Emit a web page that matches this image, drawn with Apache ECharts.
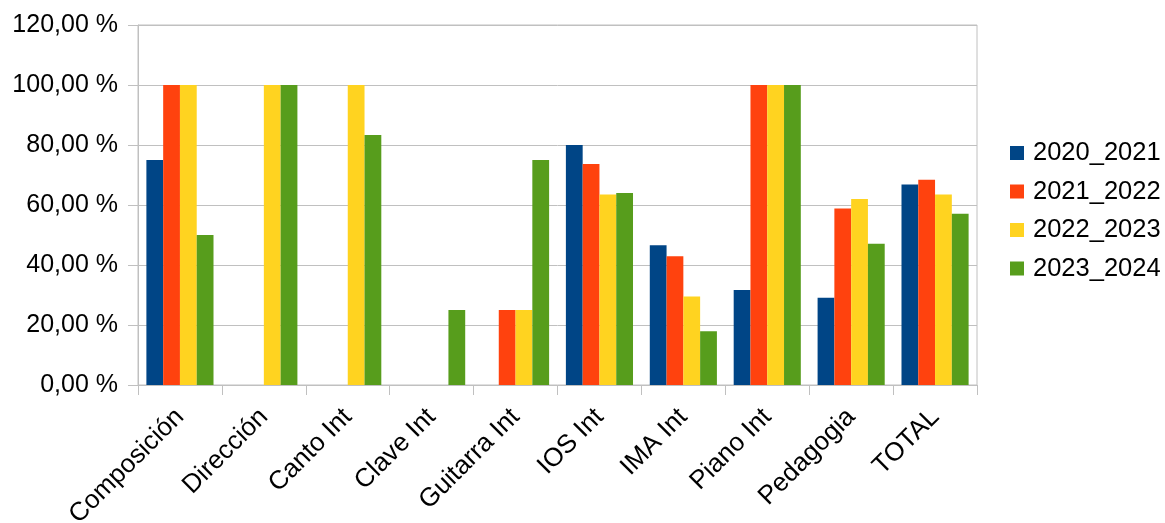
<!DOCTYPE html>
<html>
<head>
<meta charset="utf-8">
<script src="https://cdn.jsdelivr.net/npm/echarts@6/dist/echarts.min.js"></script>
<style>
html,body{margin:0;padding:0;background:#fff;}
#chart{width:1165px;height:523px;}
</style>
</head>
<body>
<div id="chart"></div>
<script>
const categories = ['Composición','Dirección','Canto Int','Clave Int','Guitarra Int','IOS Int','IMA Int','Piano Int','Pedagogia','TOTAL'];
const seriesNames = ['2020_2021','2021_2022','2022_2023','2023_2024'];
const s2020_2021 = [75, 0, 0, 0, 0, 80, 46.6, 31.7, 29.1, 66.8];
const s2021_2022 = [100, 0, 0, 0, 25, 73.7, 42.9, 100, 58.8, 68.4];
const s2022_2023 = [100, 100, 100, 0, 25, 63.5, 29.5, 100, 62.0, 63.5];
const s2023_2024 = [50, 100, 83.33, 25, 75, 64.0, 17.9, 100, 47.1, 57.1];
const colors = ['#004586','#ff420e','#ffd320','#579d1c'];
const allSeries = [s2020_2021, s2021_2022, s2022_2023, s2023_2024];

const chart = echarts.init(document.getElementById('chart'));
const font = '"Liberation Sans", Arial, sans-serif';
chart.setOption({
  animation: false,
  grid: {left: 138, right: 188, top: 25, bottom: 138, containLabel: false, outerBoundsMode: 'none',
    show: true, borderColor: '#c0c0c0', borderWidth: 1},
  legend: {
    orient: 'vertical', left: 1010, top: 140, padding: 0,
    itemWidth: 14, itemHeight: 14, itemGap: 12.5,
    icon: 'rect',
    textStyle: {fontFamily: font, fontSize: 25.5, color: '#000', lineHeight: 25, padding: [0,0,0,4]},
    data: seriesNames
  },
  xAxis: {
    type: 'category', data: categories,
    axisLine: {lineStyle: {color: '#c0c0c0', width: 1}},
    axisTick: {show: true, length: 10, lineStyle: {color: '#c0c0c0'}},
    axisLabel: {rotate: 45, margin: 28, fontFamily: font, fontSize: 26, color: '#000', interval: 0}
  },
  yAxis: {
    type: 'value', min: 0, max: 120, interval: 20,
    axisLine: {show: true, lineStyle: {color: '#c0c0c0'}},
    axisTick: {show: true, length: 10, lineStyle: {color: '#c0c0c0'}},
    splitLine: {lineStyle: {color: '#c0c0c0', width: 1}},
    axisLabel: {margin: 20, fontFamily: font, fontSize: 25, color: '#000',
      formatter: v => v.toFixed(2).replace('.', ',') + ' %'}
  },
  series: allSeries.map((d, i) => ({
    name: seriesNames[i], type: 'bar', data: d,
    barGap: '0%', barCategoryGap: '20%',
    itemStyle: {color: colors[i]}
  }))
});
</script>
</body>
</html>
